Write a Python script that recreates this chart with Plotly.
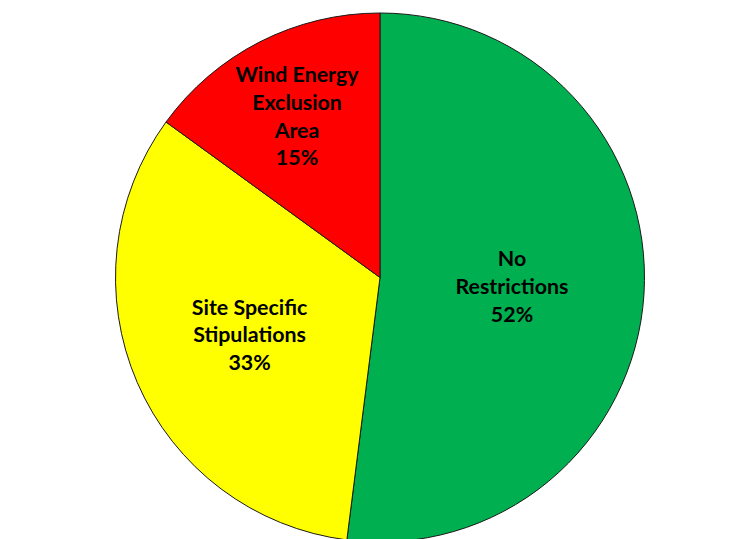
import plotly.graph_objects as go

categories = ["No<br>Restrictions", "Site Specific<br>Stipulations", "Wind Energy<br>Exclusion<br>Area"]
values = [52, 33, 15]
colors = ["#00B050", "#FFFF00", "#FF0000"]

fig = go.Figure(
    go.Pie(
        labels=categories,
        values=values,
        sort=False,
        direction="clockwise",
        rotation=0,
        marker=dict(colors=colors, line=dict(color="#1a1a1a", width=1)),
        texttemplate="<b>%{label}<br>%{value}%</b>",
        textposition="inside",
        insidetextorientation="horizontal",
        textfont=dict(family="Lato, Open Sans, sans-serif", size=23, color="black"),
        hoverinfo="label+percent",
        showlegend=False,
    )
)

fig.update_layout(
    width=744,
    height=539,
    margin=dict(l=5, r=5, t=5, b=5),
    paper_bgcolor="white",
    plot_bgcolor="white",
    uniformtext=dict(minsize=20, mode="show"),
)

fig.write_html("out.html")
